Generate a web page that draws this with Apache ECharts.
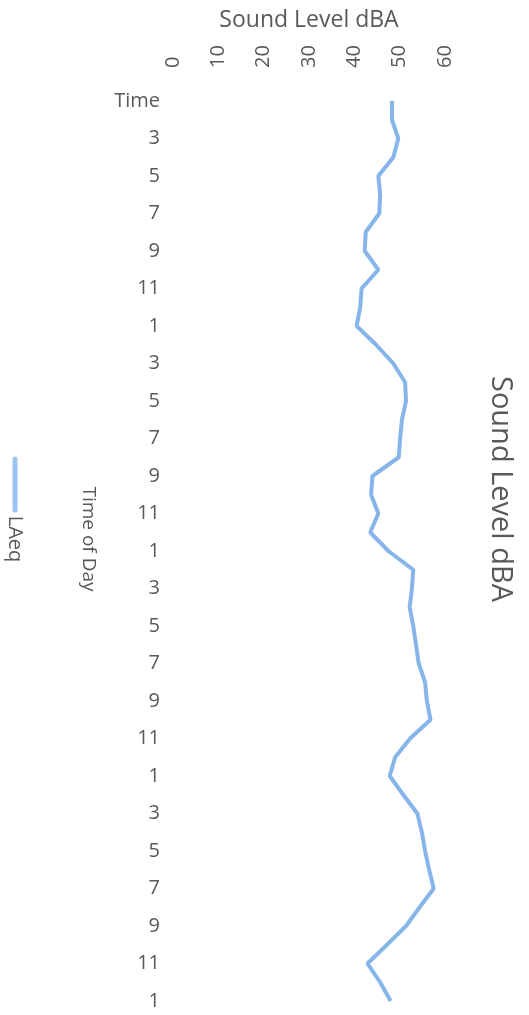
<!DOCTYPE html>
<html>
<head>
<meta charset="utf-8">
<script src="https://cdn.jsdelivr.net/npm/echarts@6/dist/echarts.min.js"></script>
<style>
  html, body { margin: 0; padding: 0; background: #fff; }
  #chart { width: 529px; height: 1015px; }
</style>
</head>
<body>
<div id="chart"></div>
<script>
// hours of the day, first row is the header cell "Time"
var categories = ['Time', '2', '3', '4', '5', '6', '7', '8', '9', '10', '11', '12',
  '1', '2', '3', '4', '5', '6', '7', '8', '9', '10', '11', '12',
  '1', '2', '3', '4', '5', '6', '7', '8', '9', '10', '11', '12',
  '1', '2', '3', '4', '5', '6', '7', '8', '9', '10', '11', '12',
  '1'];

// LAeq in dBA
var laeq = [48.3, 48.3, 49.7, 48.6, 45.3, 45.7, 45.5, 42.5, 42.3, 45.3, 41.6, 41.3,
  40.5, 44.8, 48.6, 51.2, 51.4, 50.5, 50.1, 49.8, 44.0, 43.7, 45.3, 43.5,
  47.5, 53.0, 52.7, 52.2, 53.0, 53.6, 54.2, 55.6, 56.0, 56.8, 52.3, 49.0,
  47.8, 50.8, 53.9, 54.9, 55.6, 56.5, 57.5, 54.4, 51.4, 47.2, 42.9, 45.7,
  48.0];

var valueMin = 0;
var valueMax = 60;
var valueStep = 10;

var font = 'Open Sans';
var textColor = '#595959';

var chart = echarts.init(document.getElementById('chart'));

var option = {
  backgroundColor: '#ffffff',
  animation: false,
  grid: {
    left: 173,
    right: 84,
    top: 101,
    bottom: 14
  },
  xAxis: {
    type: 'value',
    position: 'top',
    min: valueMin,
    max: valueMax,
    interval: valueStep,
    name: 'Sound Level dBA',
    nameLocation: 'middle',
    nameGap: 69,
    nameTextStyle: { fontFamily: font, fontSize: 23, color: textColor },
    axisLine: { show: false },
    axisTick: { show: false },
    splitLine: { show: false },
    axisLabel: { rotate: -90, margin: 33, fontFamily: font, fontSize: 20, color: textColor }
  },
  yAxis: {
    type: 'category',
    inverse: true,
    boundaryGap: false,
    data: categories,
    name: 'Time of Day',
    nameLocation: 'middle',
    nameRotate: -90,
    nameGap: 75,
    // nudge the name up the axis, as in the scan
    nameTextStyle: { fontFamily: font, fontSize: 19, color: textColor, padding: [0, 24, 0, 0] },
    axisLine: { show: false },
    axisTick: { show: false },
    splitLine: { show: false },
    axisLabel: { interval: 1, margin: 13, fontFamily: font, fontSize: 20, color: textColor }
  },
  series: [{
    name: 'LAeq',
    type: 'line',
    data: laeq,
    showSymbol: false,
    lineStyle: { width: 4, color: '#86b5ea' },
    itemStyle: { color: '#86b5ea' }
  }],
  // rotated title and legend, the scan is turned a quarter turn
  graphic: [
    {
      type: 'text',
      x: 500,
      y: 489,
      rotation: -Math.PI / 2,
      style: {
        text: 'Sound Level dBA',
        fontFamily: font,
        fontSize: 29,
        fill: textColor,
        align: 'center',
        verticalAlign: 'middle'
      }
    },
    {
      type: 'line',
      shape: { x1: 15, y1: 459, x2: 15, y2: 510 },
      style: { stroke: '#9cc4f0', lineWidth: 5, lineCap: 'round' }
    },
    {
      type: 'text',
      x: 15,
      y: 539,
      rotation: -Math.PI / 2,
      style: {
        text: 'LAeq',
        fontFamily: font,
        fontSize: 20,
        fill: textColor,
        align: 'center',
        verticalAlign: 'middle'
      }
    }
  ]
};

chart.setOption(option);
</script>
</body>
</html>
